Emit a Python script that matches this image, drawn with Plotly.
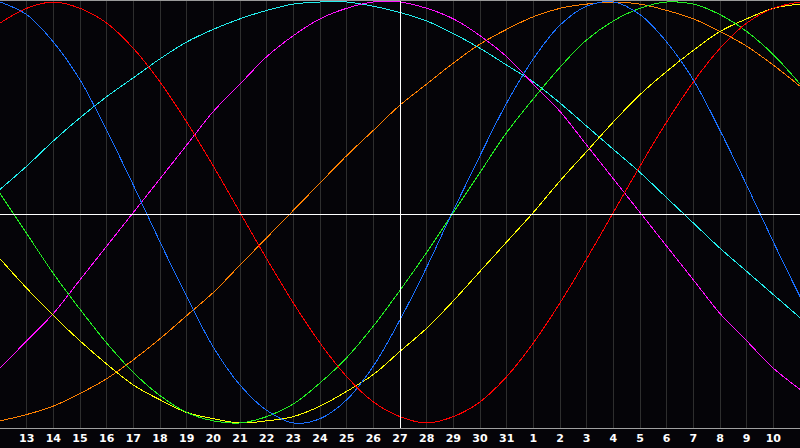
import plotly.graph_objects as go

# Day labels (index 0 = day 12 at left edge, index 30 = day 11 at right edge)
days = [12, 13, 14, 15, 16, 17, 18, 19, 20, 21, 22, 23, 24, 25, 26, 27, 28, 29, 30, 31,
        1, 2, 3, 4, 5, 6, 7, 8, 9, 10, 11]
idx = list(range(len(days)))

# Series values (percent) per day
red = [90, 97, 100, 97, 90, 78, 62, 43, 22, 0, -22, -43, -62, -78, -90, -97, -100, -97,
       -90, -78, -62, -43, -22, 0, 22, 43, 62, 78, 90, 97, 100]
blue = [100, 94, 81, 63, 39, 13, -14, -40, -64, -82, -94, -100, -98, -89, -73, -51, -26, 1,
        27, 52, 73, 89, 98, 100, 94, 81, 63, 39, 13, -14, -40]
green = [9, -10, -29, -46, -62, -76, -87, -95, -99, -100, -97, -91, -81, -69, -54, -37, -19, 0,
         19, 38, 54, 69, 82, 91, 97, 100, 99, 94, 86, 75, 61]
yellow = [-22, -36, -49, -61, -72, -82, -89, -95, -98, -100, -99, -97, -92, -85, -77, -66, -55,
          -42, -28, -14, 0, 15, 29, 43, 56, 67, 77, 86, 92, 97, 99]
orange = [-99, -96, -92, -86, -79, -70, -60, -49, -38, -25, -12, 1, 14, 27, 39, 51, 61, 71, 80,
          87, 93, 97, 99, 100, 99, 96, 92, 86, 79, 70, 60]
cyan = [11, 22, 34, 45, 55, 64, 73, 81, 87, 92, 96, 99, 100, 100, 98, 95, 91, 85, 78, 70, 62,
        52, 41, 30, 19, 7, -5, -17, -28, -39, -50]
magenta = [-74, -61, -48, -32, -16, 0, 16, 32, 48, 61, 74, 84, 92, 97, 100, 100, 97, 92, 84, 74,
           61, 48, 32, 16, 0, -16, -32, -48, -61, -74, -84]

series = [
    ("orange", orange, "#ff8000"),
    ("cyan", cyan, "#22eeee"),
    ("magenta", magenta, "#ff10ff"),
    ("yellow", yellow, "#ffff00"),
    ("green", green, "#22ee22"),
    ("blue", blue, "#1a70ff"),
    ("red", red, "#ff0000"),
]

fig = go.Figure()
for name, vals, col in series:
    fig.add_trace(go.Scatter(x=idx, y=vals, mode="lines", name=name,
                             line=dict(color=col, width=1, shape="spline", smoothing=1.0),
                             hoverinfo="skip"))

tick_idx = idx[1:-1]
tick_txt = [str(d) for d in days[1:-1]]

# centre vertical line (today)
fig.add_shape(type="line", x0=15, x1=15, y0=0, y1=1, xref="x", yref="paper",
              line=dict(color="#ffffff", width=1), layer="above")
# centre horizontal line
fig.add_shape(type="line", x0=0, x1=1, y0=0.5, y1=0.5, xref="paper", yref="paper",
              line=dict(color="#ffffff", width=1), layer="above")
# top border
fig.add_shape(type="line", x0=0, x1=1, y0=1, y1=1, xref="paper", yref="paper",
              line=dict(color="#9a9a9a", width=1), layer="above")

fig.update_layout(
    width=800, height=448,
    margin=dict(l=0, r=0, t=0, b=20),
    paper_bgcolor="#050408",
    plot_bgcolor="#050408",
    showlegend=False,
    hovermode=False,
    xaxis=dict(range=[0, 30], tickvals=tick_idx, ticktext=tick_txt,
               showgrid=True, gridcolor="#2e2e2e", gridwidth=1,
               zeroline=False, showline=True, linecolor="#a0a0a0", linewidth=1,
               ticks="", ticklen=0,
               tickfont=dict(family="DejaVu Sans", size=11, color="#ffffff", weight="bold")),
    yaxis=dict(range=[-102.4, 100.95], showgrid=False, zeroline=False,
               showticklabels=False,
               showline=True, linecolor="#9a9a9a", linewidth=1),
)

post = """
document.body.style.margin='0';
document.body.style.background='#050408';
document.querySelectorAll('.scatterlayer path.js-line, .shapelayer path').forEach(function(p){p.style.shapeRendering='crispEdges';});
"""
fig.write_html("out.html", post_script=post, config={"displayModeBar": False, "staticPlot": True})
